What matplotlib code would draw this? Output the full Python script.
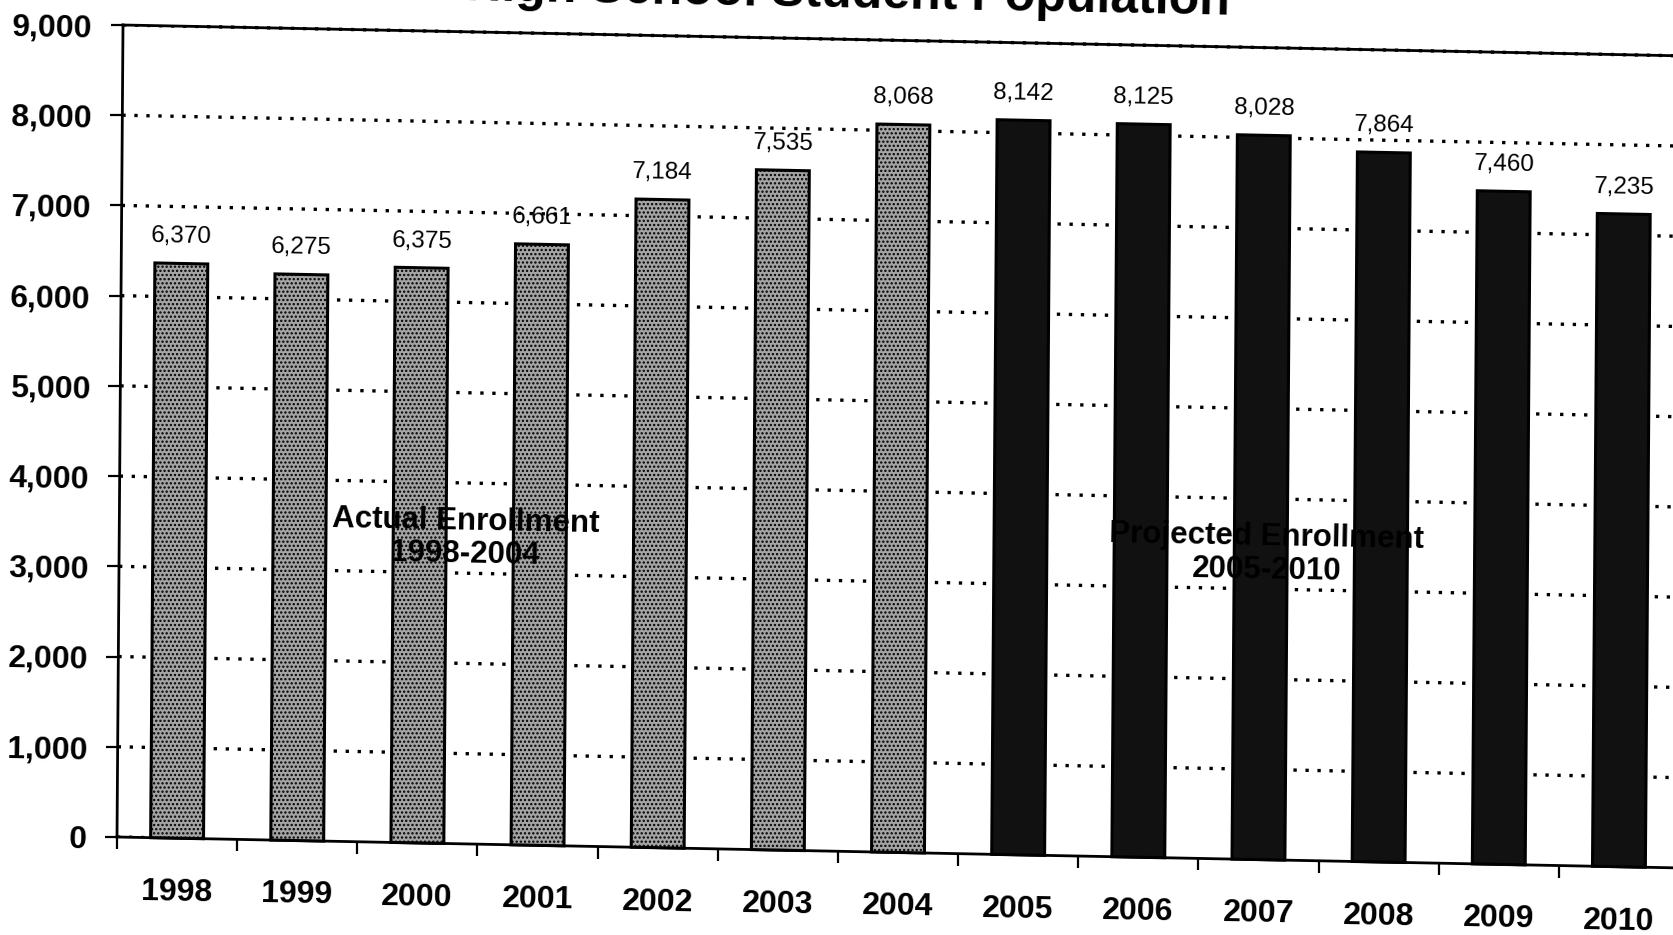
import numpy as np
import matplotlib
matplotlib.use('Agg')
import matplotlib.pyplot as plt
from matplotlib.ticker import FixedLocator, NullFormatter, FuncFormatter
from matplotlib.transforms import Affine2D, ScaledTranslation

# enrollment by school year, 1998-2004 actual, 2005-2010 projected
years = ['1998', '1999', '2000', '2001', '2002', '2003', '2004',
         '2005', '2006', '2007', '2008', '2009', '2010']
enrollment = [6370, 6275, 6375, 6661, 7184, 7535, 8068,
              8142, 8125, 8028, 7864, 7460, 7235]
n_actual = 7
y_ticks = [0, 1000, 2000, 3000, 4000, 5000, 6000, 7000, 8000, 9000]

plt.rcParams['font.family'] = ['Liberation Sans', 'DejaVu Sans']
plt.rcParams['hatch.linewidth'] = 1.1

W, H, DPI = 1674, 935, 100
fig = plt.figure(figsize=(W / DPI, H / DPI), dpi=DPI)
ax = fig.add_axes([117 / W, 98 / H, 1562 / W, 812 / H])
ax.patch.set_visible(False)

# the page sits slightly askew: shear everything about the plot origin
ox, oy = 117, 98
tilt = -1.1
shear = (Affine2D().translate(-ox, -oy)
         + Affine2D(np.array([[1.0, 0.0074, 0.0],
                              [-0.0198, 1.0, 0.0],
                              [0.0, 0.0, 1.0]]))
         + Affine2D().translate(ox, oy))

x = np.arange(len(years))
faces = ['#a4a4a4'] * n_actual + ['#111111'] * (len(years) - n_actual)
bars = ax.bar(x, enrollment, width=0.44, color=faces, edgecolor='black',
              linewidth=2.2, zorder=3)
for i, b in enumerate(bars):
    if i < n_actual:
        b.set_hatch('....')
    b.set_clip_on(False)
    b.set_transform(ax.transData + shear)

ax.set_xlim(-0.5, len(years) - 0.5)
ax.set_ylim(0, 9000)

# value labels above bars
lift = ScaledTranslation(0, 0.15, fig.dpi_scale_trans)
for i, v in enumerate(enrollment):
    ax.text(i, v, f'{v:,}', ha='center', va='bottom', fontsize=17.5,
            rotation=tilt, transform=ax.transData + lift + shear, zorder=5)

ax.text(2.38, 3390, 'Actual Enrollment\n1998-2004', ha='center', va='center',
        fontsize=22.5, fontweight='bold', linespacing=1.15, rotation=tilt,
        transform=ax.transData + shear, zorder=5)
ax.text(9.05, 3390, 'Projected Enrollment\n2005-2010', ha='center', va='center',
        fontsize=22.5, fontweight='bold', linespacing=1.15, rotation=tilt,
        transform=ax.transData + shear, zorder=5)

ax.text(0.464, 1.030, 'High School Student Population', ha='center',
        va='baseline', fontsize=36, fontweight='bold', rotation=tilt,
        transform=ax.transAxes + shear)

# y axis
ax.yaxis.set_major_locator(FixedLocator(y_ticks))
ax.yaxis.set_major_formatter(FuncFormatter(lambda v, p: f'{int(v):,}'))
ax.tick_params(axis='y', which='major', direction='out', length=8.6, width=1.6,
               pad=13, labelsize=23, labelrotation=tilt)
for lab in ax.get_yticklabels():
    lab.set_fontweight('bold')
ax.yaxis.grid(True, color='black', linestyle=(0, (1, 2.6)), linewidth=2.4)
ax.set_axisbelow(True)

# x axis: ticks between categories, labels centred under bars
ax.xaxis.set_major_locator(FixedLocator(np.arange(-0.5, len(years), 1.0)))
ax.xaxis.set_major_formatter(NullFormatter())
ax.xaxis.set_minor_locator(FixedLocator(x))
ax.set_xticklabels(years, minor=True)
ax.tick_params(axis='x', which='major', direction='out', length=8.6, width=1.6)
ax.tick_params(axis='x', which='minor', length=0, pad=28, labelsize=23,
               labelrotation=tilt)
for lab in ax.get_xticklabels(minor=True):
    lab.set_fontweight('bold')

ax.spines['right'].set_visible(False)
for s in ['left', 'bottom', 'top']:
    ax.spines[s].set_linewidth(2.0)

fig.canvas.draw()

for s in ['left', 'bottom', 'top']:
    sp = ax.spines[s]
    sp.set_transform(sp.get_data_transform() + shear)

for axis in (ax.xaxis, ax.yaxis):
    for tick in axis.get_major_ticks() + axis.get_minor_ticks():
        for art in (tick.tick1line, tick.gridline, tick.label1):
            art.set_transform(art.get_transform() + shear)

fig.savefig('out.png', dpi=DPI)
